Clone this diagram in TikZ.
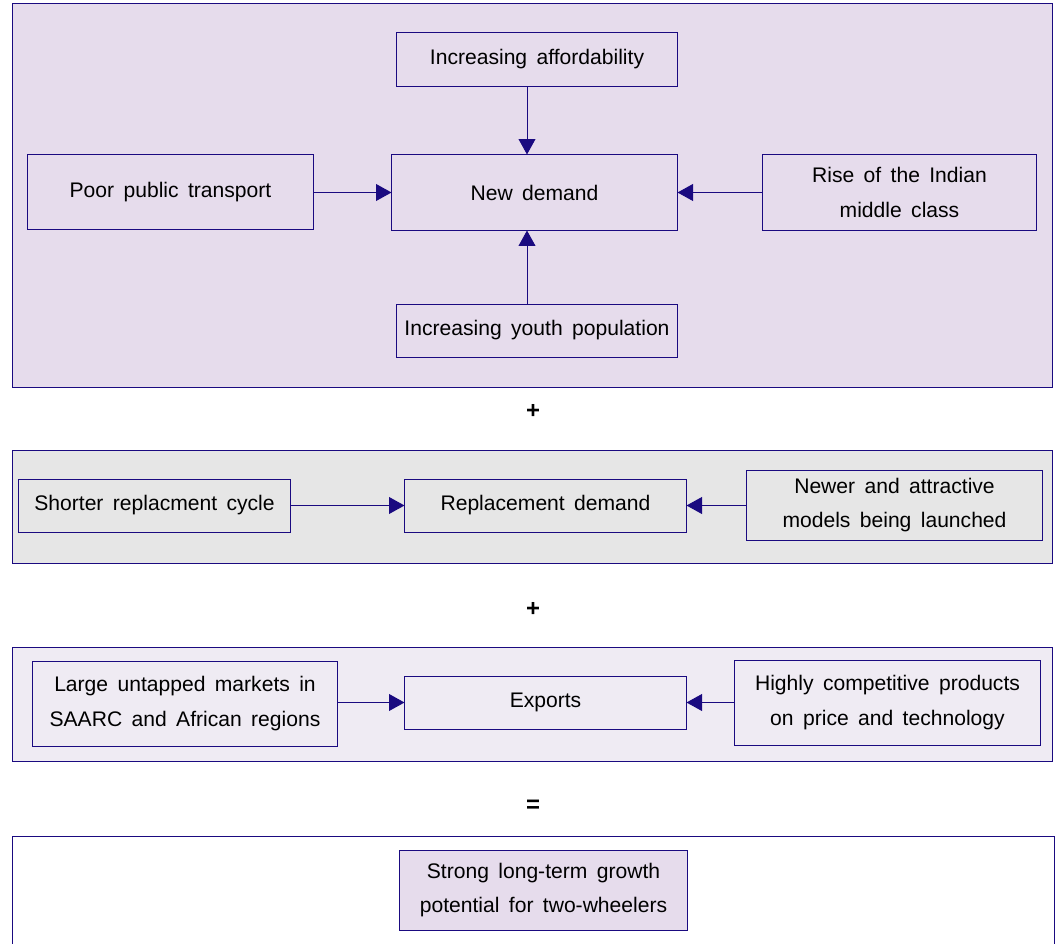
\documentclass[tikz,border=0pt]{standalone}
\usepackage{fontspec}
\setmainfont{Liberation Sans}[WordSpace=1.6]
\usetikzlibrary{arrows.meta,positioning}
\definecolor{dnavy}{HTML}{1A0A80}
\definecolor{dlav}{HTML}{E6DCEC}
\definecolor{dgrey}{HTML}{E6E6E6}
\definecolor{dpale}{HTML}{EFEBF3}
\tikzset{
  panel/.style={draw=dnavy,line width=0.7pt},
  box/.style={draw=dnavy,line width=0.7pt,align=center,inner sep=0pt,font=\fontsize{15}{24.5}\selectfont},
  arr/.style={-{Triangle[length=11pt,width=12pt]},line width=0.7pt,draw=dnavy},
  sign/.style={font=\fontsize{17}{17}\selectfont\bfseries},
}
\begin{document}
\begin{tikzpicture}[x=0.025cm,y=-0.025cm]
  \useasboundingbox (0,0) rectangle (1057,944);
  % panels
  \draw[panel,fill=dlav] (12,3) rectangle (1052,387);
  \draw[panel,fill=dgrey] (12,450) rectangle (1052,563);
  \draw[panel,fill=dpale] (12,647) rectangle (1052,761);
  \draw[panel,fill=white] (12,836) rectangle (1054,950);
  % new demand
  \node[box,minimum width=7cm,minimum height=1.325cm] (aff) at (537,59.5) {Increasing affordability};
  \node[box,minimum width=7.125cm,minimum height=1.875cm] (newd) at (534.5,192.5) {New demand};
  \node[box,minimum width=7.125cm,minimum height=1.85cm] (poor) at (170.5,192) {Poor public transport};
  \node[box,minimum width=6.825cm,minimum height=1.875cm] (rise) at (899.5,192.5) {Rise of the Indian\\middle class};
  \node[box,minimum width=7cm,minimum height=1.325cm] (youth) at (537,330.5) {Increasing youth population};
  \draw[arr] ([xshift=-0.25cm]aff.south) -- ([xshift=-0.25cm]aff.south |- newd.north);
  \draw[arr] ([xshift=-0.25cm]youth.north) -- ([xshift=-0.25cm]youth.north |- newd.south);
  \draw[arr] (poor.east |- newd) -- (newd.west);
  \draw[arr] (rise.west |- newd) -- (newd.east);
  \node[sign] (plus1) at (533,411) {+};
  % replacement demand
  \node[box,minimum width=6.775cm,minimum height=1.325cm] (short) at (154.5,505.5) {Shorter replacment cycle};
  \node[box,minimum width=7.025cm,minimum height=1.325cm] (repl) at (545.5,505.5) {Replacement demand};
  \node[box,minimum width=7.375cm,minimum height=1.75cm] (newer) at (894.5,505) {Newer and attractive\\models being launched};
  \draw[arr] (short.east) -- (repl.west);
  \draw[arr] (newer.west |- repl) -- (repl.east);
  \node[sign] (plus2) at (533,609) {+};
  % exports
  \node[box,minimum width=7.6cm,minimum height=2.125cm] (large) at (185,703.5) {Large untapped markets in\\SAARC and African regions};
  \node[box,minimum width=7.025cm,minimum height=1.325cm] (exports) at (545.5,702.5) {Exports};
  \node[box,minimum width=7.625cm,minimum height=2.125cm] (highly) at (887.5,702.5) {Highly competitive products\\on price and technology};
  \draw[arr] (large.east |- exports) -- (exports.west);
  \draw[arr] (highly.west |- exports) -- (exports.east);
  \node[sign] (equal) at (533,806) {=};
  % result
  \node[box,fill=dlav,minimum width=7.175cm,minimum height=2cm] (strong) at (543.5,890) {Strong long-term growth\\potential for two-wheelers};
\end{tikzpicture}
\end{document}
